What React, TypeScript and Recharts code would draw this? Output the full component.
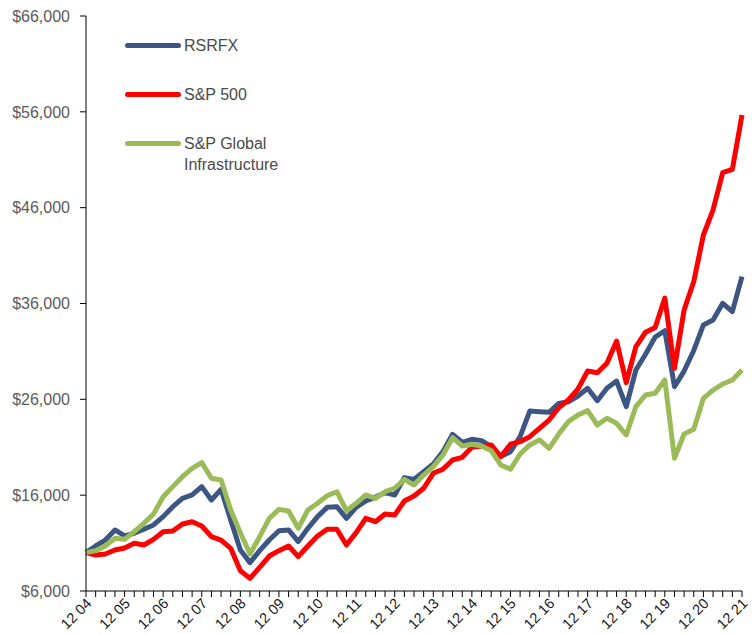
import React from 'react';
import { LineChart, Line, XAxis, YAxis } from 'recharts';

// quarter ends, Dec 2004 .. Dec 2021
const quarters = [
    '12 04', '03 05', '06 05', '09 05', '12 05', '03 06', '06 06', '09 06', '12 06',
    '03 07', '06 07', '09 07', '12 07', '03 08', '06 08', '09 08', '12 08',
    '03 09', '06 09', '09 09', '12 09', '03 10', '06 10', '09 10', '12 10',
    '03 11', '06 11', '09 11', '12 11', '03 12', '06 12', '09 12', '12 12',
    '03 13', '06 13', '09 13', '12 13', '03 14', '06 14', '09 14', '12 14',
    '03 15', '06 15', '09 15', '12 15', '03 16', '06 16', '09 16', '12 16',
    '03 17', '06 17', '09 17', '12 17', '03 18', '06 18', '09 18', '12 18',
    '03 19', '06 19', '09 19', '12 19', '03 20', '06 20', '09 20', '12 20',
    '03 21', '06 21', '09 21', '12 21',
];

const rsrfx = [
    10000, 10700, 11320, 12370, 11740, 12020, 12440, 12890, 13760, 14800, 15670, 16020, 16890,
    15500, 16610, 13410, 10280, 8960, 10210, 11320, 12290, 12370, 11150, 12540, 13760, 14730,
    14800, 13580, 14730, 15390, 15800, 16260, 16020, 17830, 17650, 18450, 19250, 20540, 22350,
    21520, 21830, 21690, 21060, 20020, 20540, 22100, 24780, 24710, 24640, 25580, 25750, 26350,
    27150, 25860, 27150, 27910, 25230, 29060, 30700, 32500, 33160, 27320, 28950, 31100, 33760,
    34280, 36020, 35150, 38800,
];

const sp500 = [
    10000, 9760, 9860, 10280, 10490, 10980, 10800, 11390, 12190, 12260, 12990, 13230, 12780,
    11670, 11320, 10450, 8120, 7320, 8470, 9650, 10210, 10700, 9580, 10700, 11740, 12440,
    12440, 10800, 12090, 13580, 13230, 14030, 13930, 15390, 15910, 16720, 18280, 18700, 19670,
    19950, 20990, 21130, 21240, 20020, 21310, 21580, 22100, 22980, 23840, 25130, 25930, 27080,
    28960, 28780, 29760, 32090, 27740, 31490, 33000, 33500, 36560, 29240, 35320, 38300, 43150,
    45760, 49650, 50000, 55670,
];

const globalInfra = [
    10000, 10210, 10700, 11500, 11390, 12190, 13060, 14030, 15840, 16890, 17930, 18800, 19390,
    17760, 17580, 14450, 12090, 9860, 11670, 13580, 14520, 14350, 12540, 14450, 15150, 15940,
    16360, 14380, 15150, 16020, 15670, 16360, 16720, 17650, 17060, 18100, 18970, 20190, 22000,
    21130, 21310, 21130, 20640, 19150, 18700, 20300, 21240, 21760, 20890, 22380, 23670, 24370,
    24820, 23320, 24020, 23500, 22280, 25230, 26450, 26630, 28020, 19850, 22380, 22870, 26110,
    26970, 27600, 28020, 29060,
];

const yTicks = [6000, 16000, 26000, 36000, 46000, 56000, 66000];

const series = [
    { key: 'rsrfx', name: 'RSRFX', color: '#3d5583' },
    { key: 'sp500', name: 'S&P 500', color: '#ff0000' },
    { key: 'infra', name: 'S&P Global\nInfrastructure', color: '#9bbb59' },
];

const data = quarters.map((q, i) => ({
    q,
    rsrfx: rsrfx[i],
    sp500: sp500[i],
    infra: globalInfra[i],
}));

const FONT = '"Liberation Sans", Arial, sans-serif';

const money = (v: number) => '$' + v.toLocaleString('en-US');

function QuarterTick(props: any) {
    const { x, y, payload } = props;
    const label: string = payload.value;
    if (!label.startsWith('12')) return null;
    const tx = x - 1;
    const ty = y - 2;
    return (
        <text
            x={tx}
            y={ty}
            transform={`rotate(-45, ${tx}, ${ty})`}
            textAnchor="end"
            dominantBaseline="hanging"
            fontSize={14.5}
            fontFamily={FONT}
            fill="#1a1a1a"
        >
            {label}
        </text>
    );
}

function SideLegend() {
    return (
        <div style={{ position: 'absolute', left: 125, top: 35, fontFamily: FONT, fontSize: 16, color: '#4a4a4a' }}>
            {series.map((s, i) => (
                <div key={s.key} style={{ position: 'absolute', left: 0, top: i * 49, display: 'flex' }}>
                    <div style={{ width: 56, height: 5, borderRadius: 3, background: s.color, marginTop: 8 }} />
                    <div style={{ marginLeft: 3, whiteSpace: 'pre', lineHeight: '21px' }}>{s.name}</div>
                </div>
            ))}
        </div>
    );
}

export default function App() {
    return (
        <div style={{ position: 'absolute', left: 0, top: 0, width: 754, height: 634, background: '#fff' }}>
            <LineChart width={754} height={634} data={data} margin={{ top: 16, right: 12, left: 0, bottom: 0 }}>
                <XAxis
                    dataKey="q"
                    interval={0}
                    height={43}
                    tickLine={{ stroke: '#000' }}
                    axisLine={{ stroke: '#000' }}
                    tickSize={6}
                    tick={<QuarterTick />}
                />
                <YAxis
                    width={86}
                    domain={[6000, 66000]}
                    ticks={yTicks}
                    tickFormatter={money}
                    tickSize={6}
                    tickMargin={10}
                    tickLine={{ stroke: '#000' }}
                    axisLine={{ stroke: '#000' }}
                    tick={{ fill: '#5a5a5c', fontSize: 16, fontFamily: FONT }}
                />
                {series.map((s) => (
                    <Line
                        key={s.key}
                        type="linear"
                        dataKey={s.key}
                        name={s.name}
                        stroke={s.color}
                        strokeWidth={5}
                        strokeLinejoin="round"
                        dot={false}
                        isAnimationActive={false}
                    />
                ))}
            </LineChart>
            <SideLegend />
        </div>
    );
}
